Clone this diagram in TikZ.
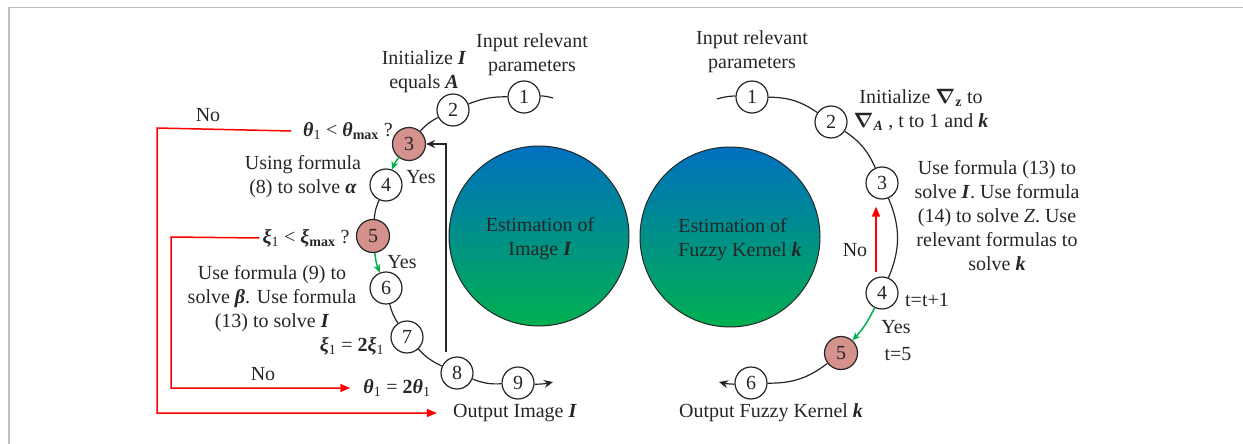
\documentclass[tikz,border=0pt]{standalone}
\usepackage{fontspec}
\setmainfont{Liberation Serif}
\usetikzlibrary{arrows.meta}
\definecolor{ink}{RGB}{38,38,38}
\definecolor{pinkfill}{RGB}{213,145,140}
\definecolor{topblue}{RGB}{0,112,192}
\definecolor{botgreen}{RGB}{0,176,80}
\definecolor{yesgreen}{RGB}{0,176,80}
\definecolor{nored}{RGB}{255,0,0}
\definecolor{framegray}{RGB}{190,190,190}
% bold italic symbol
\newcommand{\bv}[1]{\textbf{\textit{#1}}}
\newcommand{\subone}{\textsubscript{1}}
\newcommand{\submax}{\textsubscript{\bfseries max}}
\begin{document}
\begin{tikzpicture}[x=1pt,y=-1pt]
\tikzset{
  txt/.style={font=\fontsize{20}{24}\selectfont, text=ink, align=center, inner sep=0pt},
  stepnode/.style={circle, draw=ink, line width=1.2pt, minimum size=32pt, inner sep=0pt,
    fill=white, font=\fontsize{20}{24}\selectfont, text=ink},
  hot/.style={stepnode, fill=pinkfill, minimum size=33pt},
  est/.style={circle, draw=ink, line width=1pt, minimum size=180pt, inner sep=0pt,
    top color=topblue, bottom color=botgreen},
  chain/.style={draw=ink, line width=1.2pt},
  yesarrow/.style={draw=yesgreen, line width=1.5pt, -{Stealth[length=8pt,width=7pt]}},
  noarrow/.style={draw=nored, line width=1.5pt, -{Triangle[length=10pt,width=8pt]}},
  backarrow/.style={draw=ink, line width=1.2pt, -{Stealth[length=9pt,width=8pt]}},
}
\useasboundingbox (0,0) rectangle (1243,444);
% page frame
\draw[framegray, line width=1.5pt] (9,444) -- (9,7.5) -- (1243,7.5);

% central estimation circles
\node[est] (estI) at (539,236) {};
\node[est] (estK) at (730,237) {};
\node[txt, align=center] (estIt) at (540,239) {Estimation of\\ Image \bv{I}};
\node[txt, align=left] (estKt) at (740,240) {Estimation of\\Fuzzy Kernel \bv{k}};

% ---------------- image estimation loop ----------------
\coordinate (Ls) at (553,98);
\node[stepnode] (L1) at (524,97) {1};
\node[stepnode] (L2) at (453,110) {2};
\node[hot] (L3) at (409,144) {3};
\node[stepnode] (L4) at (386,185) {4};
\node[hot] (L5) at (373,236) {5};
\node[stepnode] (L6) at (386,288) {6};
\node[stepnode] (L7) at (407,337) {7};
\node[stepnode] (L8) at (457,373) {8};
\node[stepnode] (L9) at (518,383) {9};
\coordinate (Le) at (553,382);

\draw[chain] (Ls) to[bend right=6] (L1);
\draw[chain] (L1) to[bend right=11] (L2);
\draw[chain] (L2) to[bend right=11] (L3);
\draw[yesarrow] (L3) to[bend right=8] (L4);
\draw[chain] (L4) to[bend right=10] (L5);
\draw[yesarrow] (L5) to[bend right=8] (L6);
\draw[chain] (L6) to[bend right=10] (L7);
\draw[chain] (L7) to[bend right=11] (L8);
\draw[chain] (L8) to[bend right=12] (L9);
\draw[chain, -{Stealth[length=9pt,width=8pt]}] (L9) to[bend right=6] (Le);

\coordinate (fb) at (446,352);
\draw[backarrow] (fb) |- (L3);

\node[txt] (tInL) at (532,55) {Input relevant\\parameters};
\node[txt] (tInitL) at (424,72) {Initialize \bv{I}\\equals \bv{A}};
\node[txt] (tq3) at (348,131) {\bv{θ}\subone{} < \bv{θ}\submax{} ?};
\node[txt] (tUsing) at (303,177) {Using formula\\(8) to solve \bv{α}};
\node[txt] (tYes1) at (421,177) {Yes};
\node[txt] (tq5) at (306,238) {\bv{ξ}\subone{} < \bv{ξ}\submax{} ?};
\node[txt] (tYes2) at (402,262) {Yes};
\node[txt] (tUse9) at (272,299) {Use formula (9) to\\solve \bv{β}. Use formula\\(13) to solve \bv{I}};
\node[txt] (txi) at (352,346) {\bv{ξ}\subone{} = \textbf{2}\bv{ξ}\subone};
\node[txt] (tth) at (397,388) {\bv{θ}\subone{} = \textbf{2}\bv{θ}\subone};
\node[txt] (tNoA) at (208,115) {No};
\node[txt] (tNoB) at (263,374) {No};
\node[txt] (tOutI) at (515,413) {Output Image \bv{I}};

\coordinate (cA) at (157,128);
\coordinate (cB) at (171,237);
\draw[noarrow] ([xshift=-12pt]tq3.west) -- (cA) |- ([xshift=-16pt]tOutI.west);
\draw[noarrow] ([xshift=-3pt]tq5.west) -- (cB) |- ([xshift=-13pt]tth.west);

% ---------------- kernel estimation loop ----------------
\coordinate (Rs) at (717,99);
\node[stepnode] (R1) at (752,97) {1};
\node[stepnode] (R2) at (831,122) {2};
\node[stepnode] (R3) at (882,183) {3};
\node[stepnode] (R4) at (882,293) {4};
\node[hot] (R5) at (841,353) {5};
\node[stepnode] (R6) at (751,383) {6};
\coordinate (Re) at (719,382);

\draw[chain] (Rs) to[bend left=7] (R1);
\draw[chain] (R1) to[bend left=17] (R2);
\draw[chain] (R2) to[bend left=16] (R3);
\draw[chain] (R3) to[bend left=23] (R4);
\draw[yesarrow] (R4) to[bend left=8] (R5);
\draw[chain] (R5) to[bend left=19] (R6);
\draw[chain, -{Stealth[length=9pt,width=8pt]}] (R6) to[bend left=6] (Re);
\draw[noarrow, shorten <=4pt, shorten >=7pt] ([xshift=-6pt]R4.north) -- ([xshift=-6pt]R3.south);

\node[txt] (tInR) at (752,52) {Input relevant\\parameters};
\node[txt] (tInitR) at (921,110) {Initialize {\boldmath$\nabla$}\textsubscript{\bfseries z} to\\{\boldmath$\nabla$}\textsubscript{\bv{A}} , t to 1 and \bv{k}};
\node[txt] (tUse13) at (997,216) {Use formula (13) to\\solve \bv{I}. Use formula\\(14) to solve \textit{Z}. Use\\relevant formulas to\\solve \bv{k}};
\node[txt] (tNoR) at (855,250) {No};
\node[txt] (tt1) at (927,300) {t=t+1};
\node[txt] (tYesR) at (896,327) {Yes};
\node[txt] (tt5) at (898,354) {t=5};
\node[txt] (tOutK) at (771,413) {Output Fuzzy Kernel \bv{k}};
\end{tikzpicture}
\end{document}
